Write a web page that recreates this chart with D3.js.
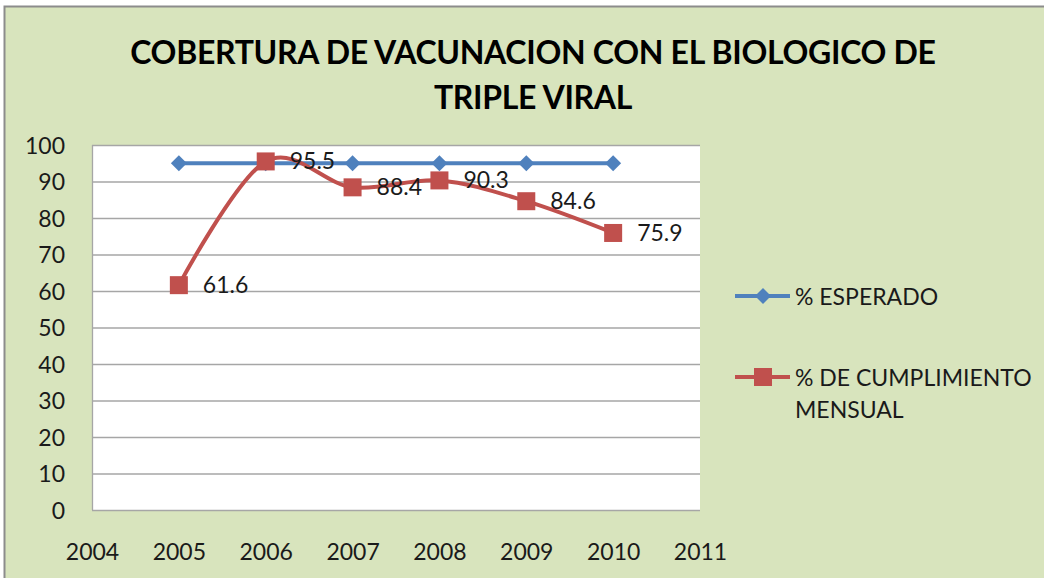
<!DOCTYPE html>
<html>
<head>
<meta charset="utf-8">
<script src="https://cdn.jsdelivr.net/npm/d3@7"></script>
<style>
  body { margin: 0; background: #fff; }
  text { font-family: Lato, "Open Sans", sans-serif; fill: #1a1a1a; }
</style>
</head>
<body>
<div id="chart"></div>
<script>
// data
const years = [2005, 2006, 2007, 2008, 2009, 2010];
const esperado = [95, 95, 95, 95, 95, 95];
const cumplimiento = [61.6, 95.5, 88.4, 90.3, 84.6, 75.9];
const xTicks = [2004, 2005, 2006, 2007, 2008, 2009, 2010, 2011];
const yTicks = [0, 10, 20, 30, 40, 50, 60, 70, 80, 90, 100];
const titleLines = ["COBERTURA DE VACUNACION CON EL BIOLOGICO DE", "TRIPLE VIRAL"];
const seriesNames = ["% ESPERADO", "% DE CUMPLIMIENTO", "MENSUAL"];

const W = 1044, H = 578;
const plot = { left: 92, right: 700, top: 145, bottom: 510 };
const blue = "#4F81BD", red = "#C0504D";
const fs = "23px";

const svg = d3.select("#chart").append("svg")
  .attr("width", W).attr("height", H);

// fondo
svg.append("rect")
  .attr("x", 4.5).attr("y", 6.5).attr("width", W + 10).attr("height", H + 10)
  .attr("fill", "#D8E4BD").attr("stroke", "#8c8c8c").attr("stroke-width", 2);

svg.append("rect")
  .attr("x", plot.left).attr("y", plot.top)
  .attr("width", plot.right - plot.left).attr("height", plot.bottom - plot.top)
  .attr("fill", "#fff");

const x = d3.scaleLinear().domain([2004, 2011]).range([plot.left, plot.right]);
const y = d3.scaleLinear().domain([0, 100]).range([plot.bottom, plot.top]);

// titulo
svg.selectAll(".title")
  .data(titleLines)
  .enter().append("text")
  .attr("class", "title")
  .attr("x", 533)
  .attr("y", (d, i) => 64 + i * 45)
  .attr("text-anchor", "middle")
  .style("font-size", "32px")
  .style("font-weight", "bold")
  .style("letter-spacing", "-0.3px")
  .style("fill", "#000")
  .text(d => d);

// grid
svg.append("g")
  .selectAll("line")
  .data(yTicks)
  .enter().append("line")
  .attr("x1", plot.left).attr("x2", plot.right)
  .attr("y1", d => y(d) + 0.5).attr("y2", d => y(d) + 0.5)
  .attr("stroke", "#a6a6a6").attr("stroke-width", 1.3);

svg.append("line")
  .attr("x1", plot.left + 0.5).attr("x2", plot.left + 0.5)
  .attr("y1", plot.top).attr("y2", plot.bottom)
  .attr("stroke", "#a6a6a6").attr("stroke-width", 1.3);

// ejes
const yAxis = svg.append("g")
  .attr("transform", `translate(${plot.left - 27},0)`)
  .call(d3.axisLeft(y).tickValues(yTicks).tickSize(0).tickPadding(0));
yAxis.select(".domain").remove();
yAxis.selectAll("text").style("font-size", fs).attr("dy", "0.36em");

const xAxis = svg.append("g")
  .attr("transform", `translate(0,${plot.bottom + 50})`)
  .call(d3.axisBottom(x).tickValues(xTicks).tickFormat(d3.format("d")).tickSize(0).tickPadding(0));
xAxis.select(".domain").remove();
xAxis.selectAll("text").style("font-size", fs).attr("y", 0).attr("dy", 0);
svg.selectAll(".tick text").style("font-family", "Lato, 'Open Sans', sans-serif").style("fill", "#1a1a1a");

// series
const espData = years.map((d, i) => ({ year: d, v: esperado[i] }));
const cumData = years.map((d, i) => ({ year: d, v: cumplimiento[i] }));

svg.append("path")
  .datum(espData)
  .attr("fill", "none").attr("stroke", blue).attr("stroke-width", 4)
  .attr("d", d3.line().x(d => x(d.year)).y(d => y(d.v)));

svg.selectAll(".diamond")
  .data(espData)
  .enter().append("path")
  .attr("class", "diamond")
  .attr("transform", d => `translate(${x(d.year)},${y(d.v)})`)
  .attr("d", "M0,-8L8,0L0,8L-8,0Z")
  .attr("fill", blue);

svg.append("path")
  .datum(cumData)
  .attr("fill", "none").attr("stroke", red).attr("stroke-width", 4)
  .attr("d", d3.line().curve(d3.curveCardinal.tension(0)).x(d => x(d.year)).y(d => y(d.v)));

svg.selectAll(".square")
  .data(cumData)
  .enter().append("rect")
  .attr("class", "square")
  .attr("x", d => x(d.year) - 9).attr("y", d => y(d.v) - 9)
  .attr("width", 18).attr("height", 18)
  .attr("fill", red);

svg.selectAll(".label")
  .data(cumData)
  .enter().append("text")
  .attr("class", "label")
  .attr("x", d => x(d.year) + 24)
  .attr("y", d => y(d.v) + 8)
  .style("font-size", fs)
  .text(d => d.v);

// leyenda
const lg = svg.append("g");
lg.append("line").attr("x1", 735).attr("x2", 790).attr("y1", 296).attr("y2", 296)
  .attr("stroke", blue).attr("stroke-width", 4);
lg.append("path").attr("transform", "translate(763,296)")
  .attr("d", "M0,-8L8,0L0,8L-8,0Z").attr("fill", blue);
lg.append("text").attr("x", 795).attr("y", 305)
  .style("font-size", fs).text(seriesNames[0]);

lg.append("line").attr("x1", 735).attr("x2", 790).attr("y1", 377).attr("y2", 377)
  .attr("stroke", red).attr("stroke-width", 4);
lg.append("rect").attr("x", 754).attr("y", 368).attr("width", 18).attr("height", 18)
  .attr("fill", red);
lg.append("text").attr("x", 795).attr("y", 386)
  .style("font-size", fs).text(seriesNames[1]);
lg.append("text").attr("x", 795).attr("y", 418)
  .style("font-size", fs).text(seriesNames[2]);
</script>
</body>
</html>
